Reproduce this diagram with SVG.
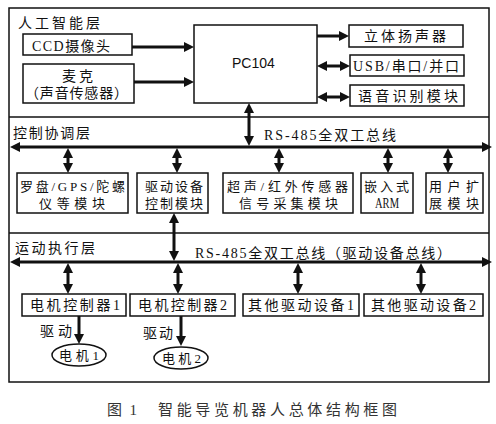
<svg xmlns="http://www.w3.org/2000/svg" width="496" height="424" viewBox="0 0 496 424">
<style>
.t{font-family:"Liberation Serif","Noto Sans CJK SC",serif;font-size:14px;fill:#111}
.m{font-family:"Liberation Serif","Noto Sans CJK SC",serif;font-size:13px;fill:#111}
.s{font-family:"Liberation Sans","Noto Sans CJK SC",sans-serif;font-size:14px;fill:#111}
.b{fill:#fff;stroke:#111;stroke-width:1.5}
.f{fill:none;stroke:#111;stroke-width:1.5}
.a{fill:none;stroke:#111;stroke-width:3}
.cap{font-family:"Liberation Serif","Noto Sans CJK SC",serif;font-size:15px;fill:#333}
</style>
<defs>
<marker id="ah" viewBox="0 0 10 10" refX="1" refY="5" markerWidth="10" markerHeight="10" markerUnits="userSpaceOnUse" orient="auto-start-reverse">
<path d="M0,0 L10,5 L0,10 z" fill="#111"/>
</marker>
</defs>
<rect width="496" height="424" fill="#fff"/>
<g id="frame">
<rect x="9" y="8" width="480" height="374" class="f"/>
<line x1="9" y1="117" x2="489" y2="117" class="f"/>
<line x1="9" y1="233" x2="489" y2="233" class="f"/>
<text x="18" y="28" class="t" textLength="82" lengthAdjust="spacing">人工智能层</text>
<text x="13" y="138" class="t" textLength="77" lengthAdjust="spacing">控制协调层</text>
<text x="15" y="253" class="t" textLength="80" lengthAdjust="spacing">运动执行层</text>
</g>
<g id="connectors">
<line x1="132" y1="47" x2="185" y2="47" class="a" marker-end="url(#ah)"/>
<line x1="134" y1="82" x2="185" y2="82" class="a" marker-end="url(#ah)"/>
<line x1="317" y1="36" x2="340" y2="36" class="a" marker-end="url(#ah)"/>
<line x1="326" y1="66" x2="341" y2="66" class="a" marker-start="url(#ah)" marker-end="url(#ah)"/>
<line x1="326" y1="97" x2="341" y2="97" class="a" marker-start="url(#ah)" marker-end="url(#ah)"/>
<line x1="249" y1="112" x2="249" y2="137" class="a" marker-start="url(#ah)" marker-end="url(#ah)"/>
<line x1="19" y1="147" x2="483" y2="147" class="a" marker-start="url(#ah)" marker-end="url(#ah)"/>
<text x="264" y="140" class="t" textLength="132" lengthAdjust="spacing">RS-485全双工总线</text>
<line x1="68" y1="157" x2="68" y2="164" class="a" marker-start="url(#ah)" marker-end="url(#ah)"/>
<line x1="177" y1="157" x2="177" y2="164" class="a" marker-start="url(#ah)" marker-end="url(#ah)"/>
<line x1="279" y1="157" x2="279" y2="164" class="a" marker-start="url(#ah)" marker-end="url(#ah)"/>
<line x1="388" y1="157" x2="388" y2="164" class="a" marker-start="url(#ah)" marker-end="url(#ah)"/>
<line x1="448" y1="157" x2="448" y2="164" class="a" marker-start="url(#ah)" marker-end="url(#ah)"/>
<line x1="174" y1="222" x2="174" y2="252" class="a" marker-start="url(#ah)" marker-end="url(#ah)"/>
<line x1="19" y1="262" x2="483" y2="262" class="a" marker-start="url(#ah)" marker-end="url(#ah)"/>
<text x="195" y="258" class="t" textLength="256" lengthAdjust="spacing">RS-485全双工总线（驱动设备总线）</text>
<line x1="68" y1="272" x2="68" y2="285" class="a" marker-start="url(#ah)" marker-end="url(#ah)"/>
<line x1="178" y1="272" x2="178" y2="285" class="a" marker-start="url(#ah)" marker-end="url(#ah)"/>
<line x1="298" y1="272" x2="298" y2="285" class="a" marker-start="url(#ah)" marker-end="url(#ah)"/>
<line x1="421" y1="272" x2="421" y2="285" class="a" marker-start="url(#ah)" marker-end="url(#ah)"/>
<line x1="79" y1="316" x2="79" y2="335" class="a" marker-end="url(#ah)"/>
<line x1="181" y1="316" x2="181" y2="337" class="a" marker-end="url(#ah)"/>
<text x="40" y="336" class="t" textLength="32" lengthAdjust="spacing">驱动</text>
<text x="143" y="338" class="t" textLength="30" lengthAdjust="spacing">驱动</text>
</g>
<g id="ccd"><rect x="23" y="34" width="109" height="21" class="b"/><text x="32" y="51" class="t" textLength="78" lengthAdjust="spacing">CCD摄像头</text></g>
<g id="mic"><rect x="23" y="64" width="111" height="39" class="b"/><text x="62" y="81" class="t" textLength="31" lengthAdjust="spacing">麦克</text><text x="25" y="98" class="t" textLength="103" lengthAdjust="spacing">（声音传感器）</text></g>
<g id="pc104"><rect x="194" y="25" width="123" height="78" class="b"/><text x="232" y="68" class="s">PC104</text></g>
<g id="speaker"><rect x="349" y="25" width="114" height="22" class="b"/><text x="364" y="41" class="t" textLength="82" lengthAdjust="spacing">立体扬声器</text></g>
<g id="usb"><rect x="350" y="55" width="114" height="21" class="b"/><text x="353" y="71" class="t" textLength="106" lengthAdjust="spacing">USB/串口/并口</text></g>
<g id="voice"><rect x="350" y="85" width="114" height="21" class="b"/><text x="358" y="101" class="t" textLength="100" lengthAdjust="spacing">语音识别模块</text></g>
<g id="compass"><rect x="17" y="173" width="111" height="40" class="b"/><text x="20" y="191" class="m" textLength="105" lengthAdjust="spacing">罗盘/GPS/陀螺</text><text x="39" y="208" class="m" textLength="66" lengthAdjust="spacing">仪等模块</text></g>
<g id="drivectl"><rect x="137" y="173" width="71" height="40" class="b"/><text x="145" y="191" class="m" textLength="58" lengthAdjust="spacing">驱动设备</text><text x="145" y="208" class="m" textLength="58" lengthAdjust="spacing">控制模块</text></g>
<g id="sensor"><rect x="223" y="173" width="130" height="40" class="b"/><text x="227" y="191" class="m" textLength="121" lengthAdjust="spacing">超声/红外传感器</text><text x="239" y="208" class="m" textLength="99" lengthAdjust="spacing">信号采集模块</text></g>
<g id="arm"><rect x="361" y="173" width="52" height="40" class="b"/><text x="364" y="191" class="m" textLength="45" lengthAdjust="spacing">嵌入式</text><text x="387" y="208" class="t" text-anchor="middle" textLength="24" lengthAdjust="spacingAndGlyphs">ARM</text></g>
<g id="ext"><rect x="426" y="173" width="57" height="40" class="b"/><text x="429" y="191" class="m" textLength="50" lengthAdjust="spacing">用户扩</text><text x="429" y="208" class="m" textLength="50" lengthAdjust="spacing">展模块</text></g>
<g id="mc1"><rect x="22" y="294" width="104" height="22" class="b"/><text x="30" y="310" class="t" textLength="90" lengthAdjust="spacing">电机控制器1</text></g>
<g id="mc2"><rect x="130" y="294" width="105" height="22" class="b"/><text x="138" y="310" class="t" textLength="89" lengthAdjust="spacing">电机控制器2</text></g>
<g id="od1"><rect x="243" y="294" width="116" height="22" class="b"/><text x="248" y="310" class="t" textLength="106" lengthAdjust="spacing">其他驱动设备1</text></g>
<g id="od2"><rect x="364" y="294" width="119" height="22" class="b"/><text x="371" y="310" class="t" textLength="105" lengthAdjust="spacing">其他驱动设备2</text></g>
<g id="m1"><ellipse cx="79" cy="355" rx="27" ry="11" class="b"/><text x="59" y="360" class="m" textLength="40" lengthAdjust="spacing">电机1</text></g>
<g id="m2"><ellipse cx="181" cy="358" rx="27" ry="11" class="b"/><text x="162" y="363" class="m" textLength="39" lengthAdjust="spacing">电机2</text></g>
<text x="107" y="415" class="cap" textLength="30" lengthAdjust="spacing">图 1</text>
<text x="158" y="415" class="cap" textLength="239" lengthAdjust="spacing">智能导览机器人总体结构框图</text>
</svg>
